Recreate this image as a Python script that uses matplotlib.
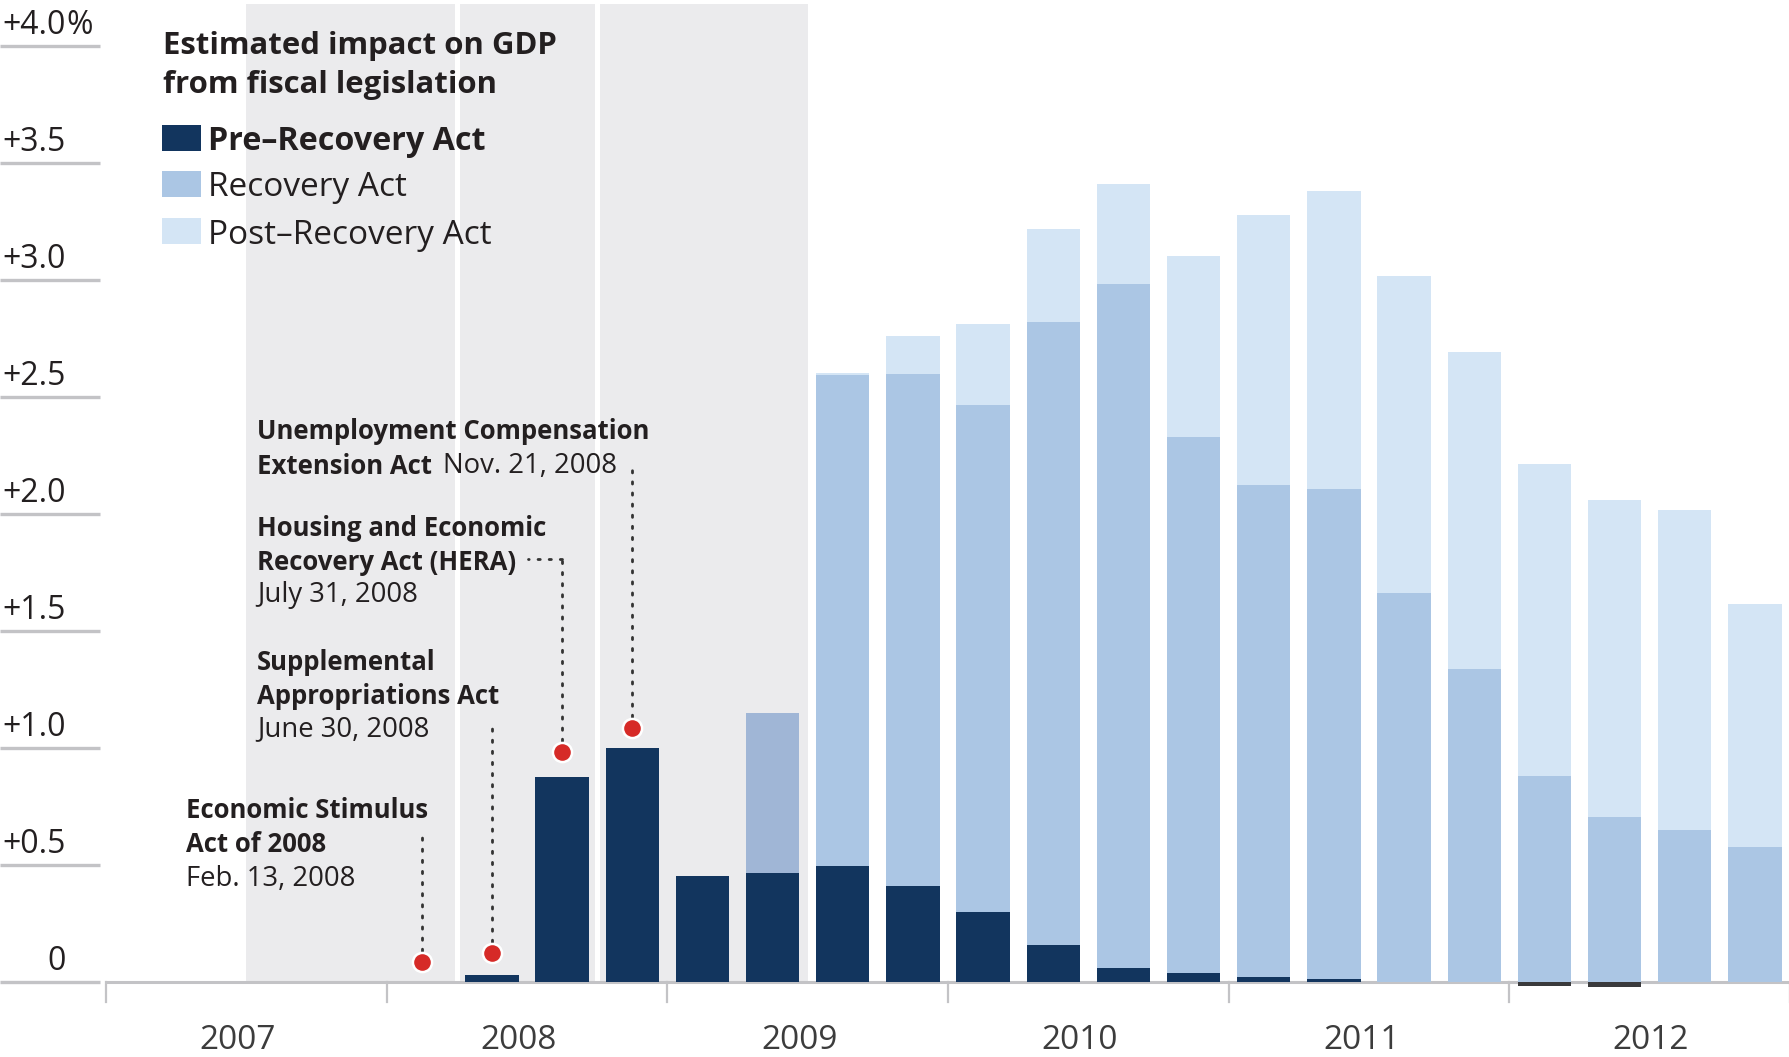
import matplotlib
matplotlib.use('Agg')
import matplotlib.pyplot as plt
from matplotlib.patches import Rectangle

plt.rcParams['font.family'] = ['Open Sans', 'DejaVu Sans']

# quarters 2008Q1 .. 2012Q4 (values in % of GDP)
quarters = ['2008Q1', '2008Q2', '2008Q3', '2008Q4',
            '2009Q1', '2009Q2', '2009Q3', '2009Q4',
            '2010Q1', '2010Q2', '2010Q3', '2010Q4',
            '2011Q1', '2011Q2', '2011Q3', '2011Q4',
            '2012Q1', '2012Q2', '2012Q3', '2012Q4']
pre_recovery = [0.0, 0.03, 0.875, 1.0, 0.452, 0.465, 0.494, 0.409,
                0.297, 0.156, 0.057, 0.035, 0.022, 0.01, 0.0, 0.0,
                -0.018, -0.022, 0.0, 0.0]
recovery = [0.0, 0.0, 0.0, 0.0, 0.0, 0.682, 2.10, 2.188,
            2.169, 2.663, 2.925, 2.293, 2.101, 2.096, 1.661, 1.337,
            0.879, 0.705, 0.648, 0.574]
post_recovery = [0.0, 0.0, 0.0, 0.0, 0.0, 0.0, 0.005, 0.162,
                 0.345, 0.397, 0.427, 0.773, 1.154, 1.272, 1.355, 1.354,
                 1.333, 1.353, 1.367, 1.039]

years = ['2007', '2008', '2009', '2010', '2011', '2012']
y_ticks = [0, 0.5, 1.0, 1.5, 2.0, 2.5, 3.0, 3.5, 4.0]
y_labels = ['0', '+0.5', '+1.0', '+1.5', '+2.0', '+2.5', '+3.0', '+3.5', '+4.0']

# legislation notes: (quarter index, bold lines, date)
acts = [
    (0, ['Economic Stimulus', 'Act of 2008'], 'Feb. 13, 2008'),
    (1, ['Supplemental', 'Appropriations Act'], 'June 30, 2008'),
    (2, ['Housing and Economic', 'Recovery Act (HERA)'], 'July 31, 2008'),
    (3, ['Unemployment Compensation', 'Extension Act'], 'Nov. 21, 2008'),
]

C_PRE = '#12355e'
C_REC = '#abc6e4'
C_REC_SHADE = '#a0b6d6'
C_POST = '#d4e5f5'
C_SHADE = '#ebebed'
C_GRID = '#c3c3c6'
C_TEXT = '#231f20'
C_RED = '#d62a27'

W, H = 1790, 1057
fig = plt.figure(figsize=(W / 100, H / 100), dpi=100)
left = 106 / W
ax = fig.add_axes([left, 0, 1 - left, 1])
ax.set_xlim(0, 24)
ax.set_ylim(-0.322, 4.195)
ax.axis('off')


def fx(px):
    return px / W


def fy(py):
    return 1 - py / H


# shaded background
ax.add_patch(Rectangle((2, 0), 8, 4.18, color=C_SHADE, lw=0, zorder=0))
for xs in [5, 7]:
    ax.axvline(xs, ymin=(0.322) / 4.517, ymax=1, color='white', lw=3.6, zorder=0.5)

# bars
first = 4
xs = [first + i + 0.5 for i in range(len(quarters))]
base_rec = [max(p, 0) for p in pre_recovery]
base_post = [b + r for b, r in zip(base_rec, recovery)]
rec_colors = [C_REC_SHADE if x < 10 else C_REC for x in xs]
pre_colors = [C_PRE if p >= 0 else '#3a3a3c' for p in pre_recovery]
bw = 0.76
ax.bar(xs, pre_recovery, width=bw, color=pre_colors, lw=0, zorder=2)
ax.bar(xs, recovery, bottom=base_rec, width=bw, color=rec_colors, lw=0, zorder=2)
ax.bar(xs, post_recovery, bottom=base_post, width=bw, color=C_POST, lw=0, zorder=2)

# baseline and year ticks
ax.plot([0, 24], [0, 0], color=C_GRID, lw=2.2, zorder=1.5, solid_capstyle='butt')
for k in range(0, 25, 4):
    ax.plot([k, k], [0, -0.085], color=C_GRID, lw=1.6, zorder=3, clip_on=False)
year_x = [1.88, 5.88, 9.88, 13.88, 17.9, 22.02]
for xx, yr in zip(year_x, years):
    ax.text(xx, -0.25, yr, ha='center', va='center', fontsize=24,
            color='#3c3c3c')

# left gridlines with labels
for v, lab in zip(y_ticks, y_labels):
    ax.plot([-1.51, -0.09], [v, v], color=C_GRID, lw=2.4, clip_on=False,
            solid_capstyle='butt')
    fig.text(fx(66), fy(981.7 - 234 * (v + 0.085)), lab, ha='right', va='center',
             fontsize=23, color=C_TEXT)
    if v == 4.0:
        fig.text(fx(66), fy(981.7 - 234 * (v + 0.085)), '%', ha='left', va='center',
                 fontsize=23, color=C_TEXT)

# red dots and dotted leaders
dot_y = [0.084, 0.123, 0.98, 1.085]
lead_top = [0.644, 1.12, 1.805, 2.22]
for (qi, bold, date), dy, top in zip(acts, dot_y, lead_top):
    x = first + qi + 0.5
    ax.plot([x, x], [dy, top], color='#333333', lw=2.0, ls=(0, (0.8, 3.2)),
            dash_capstyle='round', zorder=4)
    if qi == 2:
        ax.plot([x, 6.02], [top, top], color='#333333', lw=2.0, ls=(0, (0.8, 3.2)),
                dash_capstyle='round', zorder=4)
    ax.scatter([x], [dy], s=190, color=C_RED, edgecolor='white', linewidth=1.8,
               zorder=5)

# act labels (pixel positions in the figure)
bold_txt = dict(fontsize=18.5, fontweight='bold', color=C_TEXT, va='center', ha='left')
date_txt = dict(fontsize=19.8, color=C_TEXT, va='center', ha='left')
fig.text(fx(186), fy(810), acts[0][1][0], **bold_txt)
fig.text(fx(186), fy(844), acts[0][1][1], **bold_txt)
fig.text(fx(186), fy(879), acts[0][2], **date_txt)
fig.text(fx(257), fy(662), acts[1][1][0], **bold_txt)
fig.text(fx(257), fy(696), acts[1][1][1], **bold_txt)
fig.text(fx(257), fy(729), acts[1][2], **date_txt)
fig.text(fx(257), fy(529), acts[2][1][0], **bold_txt)
fig.text(fx(257), fy(562), acts[2][1][1], **bold_txt)
fig.text(fx(257), fy(595), acts[2][2], **date_txt)
fig.text(fx(257), fy(432), acts[3][1][0], **bold_txt)
fig.text(fx(257), fy(466), acts[3][1][1], **bold_txt)
fig.text(fx(443), fy(466), acts[3][2], **date_txt)

# legend
fig.text(fx(163), fy(46), 'Estimated impact on GDP', fontsize=22.4, fontweight='bold',
         color=C_TEXT, va='center', ha='left')
fig.text(fx(163), fy(85), 'from fiscal legislation', fontsize=22.4, fontweight='bold',
         color=C_TEXT, va='center', ha='left')
legend_items = [('Pre\u2013Recovery Act', C_PRE, 'bold', 23.2, 125),
                ('Recovery Act', C_REC, 'normal', 24, 171),
                ('Post\u2013Recovery Act', C_POST, 'normal', 24, 218)]
for lab, col, wt, fs, top in legend_items:
    fig.add_artist(Rectangle((fx(162), fy(top + 26)), fx(39), 26 / H,
                             transform=fig.transFigure, color=col, lw=0))
    fig.text(fx(208), fy(top + 17), lab, fontsize=fs, fontweight=wt,
             color=C_TEXT, va='center', ha='left')

fig.savefig('out.png', dpi=100)
